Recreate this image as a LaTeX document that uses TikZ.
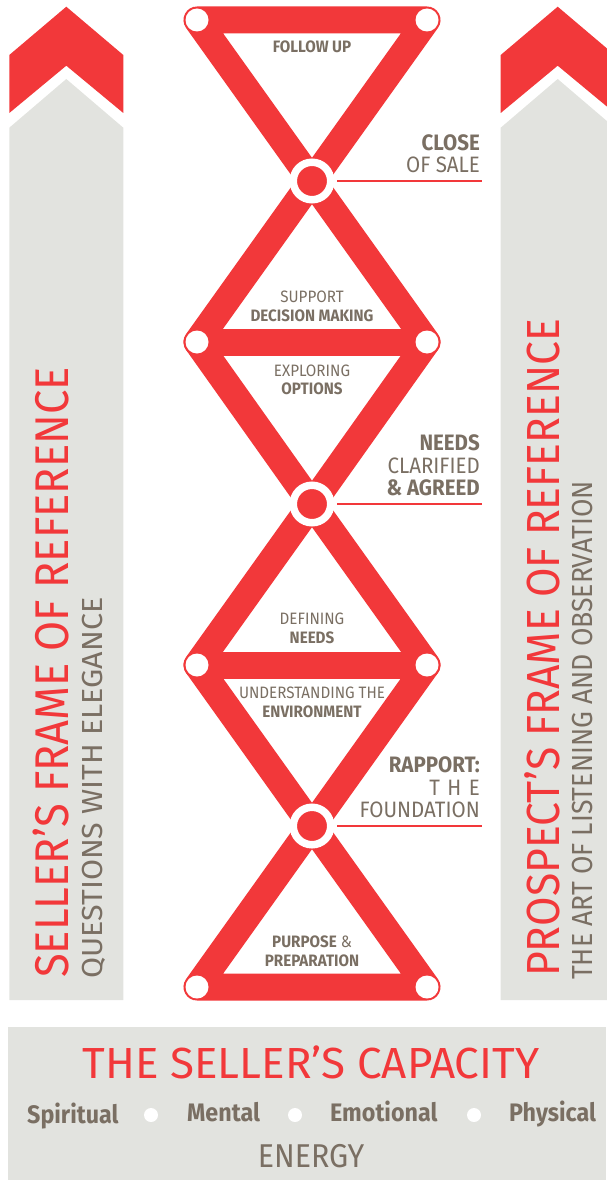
\documentclass[tikz,border=0pt]{standalone}
\usepackage{fontspec}
\setmainfont{Fira Sans}[FakeStretch=0.92]
\newfontfamily\widefont{Fira Sans}[FakeStretch=1.01]
\newfontfamily\subwidefont{Fira Sans}[FakeStretch=1.05]
\usetikzlibrary{positioning}

\definecolor{sellred}{RGB}{242,56,58}
\definecolor{panelgray}{RGB}{226,227,223}
\definecolor{inkbrown}{RGB}{122,111,99}

\pgfdeclarelayer{bg}
\pgfsetlayers{bg,main}

\newcommand\innersize{\fontsize{16.5}{19}\selectfont}
\newcommand\sidesize{\fontsize{22.3}{22}\selectfont}

\tikzset{
  bar/.style={draw=sellred, line width=27pt, line cap=round, line join=round},
  pin/.style={circle, fill=white, inner sep=0pt, minimum size=23pt},
  hub/.style={circle, fill=sellred, draw=white, line width=7.5pt, inner sep=0pt, minimum size=37.5pt},
  tick/.style={draw=sellred, line width=2pt},
  innerlbl/.style={text=inkbrown, inner sep=0pt, anchor=base, font=\innersize},
  sidelbl/.style={text=inkbrown, inner sep=0pt, anchor=base east, font=\sidesize},
  frametitle/.style={text=sellred, inner sep=0pt, rotate=90, anchor=base west, font=\fontsize{46.4}{46}\selectfont},
  framesub/.style={text=inkbrown, inner sep=0pt, rotate=90, anchor=base west, font=\fontsize{29}{29}\selectfont},
  capword/.style={text=inkbrown, inner sep=0pt, anchor=base west, font=\fontsize{25.3}{26}\selectfont\bfseries},
  dot/.style={circle, fill=white, inner sep=0pt, minimum size=14pt}
}

\begin{document}
\begin{tikzpicture}[x=1pt, y=-1pt]
  \useasboundingbox (0,0) rectangle (606,1180);
  \clip (0,0) rectangle (606,1180);

  % side panels with arrow heads
  \begin{pgfonlayer}{bg}
    \fill[sellred] (66.3,6.7) -- (123.3,55) -- (123.3,113) -- (66.3,65.7) -- (9.3,113) -- (9.3,55) -- cycle;
    \fill[panelgray] (66.3,79) -- (123.3,127.7) -- (123.3,1000) -- (9.3,1000) -- (9.3,127.7) -- cycle;
    \fill[sellred] (557.7,6.7) -- (614.7,55) -- (614.7,113) -- (557.7,65.7) -- (500.7,113) -- (500.7,55) -- cycle;
    \fill[panelgray] (557.7,79) -- (614.7,127.7) -- (614.7,1000) -- (500.7,1000) -- (500.7,127.7) -- cycle;
    \fill[panelgray] (8,1027) rectangle (606,1180);
  \end{pgfonlayer}

  % joints of the frame
  \node[pin] (tl) at (197,20) {};
  \node[pin] (tr) at (427,20) {};
  \node[hub] (close) at (312,181) {};
  \node[pin] (ml) at (197,342) {};
  \node[pin] (mr) at (427,342) {};
  \node[hub] (agree) at (312,504) {};
  \node[pin] (nl) at (197,665) {};
  \node[pin] (nr) at (427,665) {};
  \node[hub] (rapport) at (312,826) {};
  \node[pin] (bl) at (197,987) {};
  \node[pin] (br) at (427,987) {};

  \begin{pgfonlayer}{bg}
    \draw[bar] (tl.center) -- (tr.center) -- (close.center) -- cycle;
    \draw[bar] (close.center) -- (ml.center) -- (agree.center) -- (mr.center) -- cycle;
    \draw[bar] (ml.center) -- (mr.center);
    \draw[bar] (agree.center) -- (nl.center) -- (rapport.center) -- (nr.center) -- cycle;
    \draw[bar] (nl.center) -- (nr.center);
    \draw[bar] (rapport.center) -- (bl.center) -- (br.center) -- cycle;
  \end{pgfonlayer}

  % stages inside the frame
  \node[innerlbl] (followup) at (312,53) {\bfseries FOLLOW UP};
  \node[innerlbl] (support) at (312,302) {SUPPORT};
  \node[innerlbl] (decision) at (312,321) {\bfseries DECISION MAKING};
  \node[innerlbl] (exploring) at (312,376) {EXPLORING};
  \node[innerlbl] (options) at (312,394) {\bfseries OPTIONS};
  \node[innerlbl] (defining) at (312,624) {DEFINING};
  \node[innerlbl] (needs) at (312,643) {\bfseries NEEDS};
  \node[innerlbl] (understanding) at (312,698) {UNDERSTANDING THE};
  \node[innerlbl] (environment) at (312,717) {\bfseries ENVIRONMENT};
  \node[innerlbl] (purpose) at (312,947) {\textbf{PURPOSE} \&};
  \node[innerlbl] (preparation) at (312,966) {\bfseries PREPARATION};

  % milestones on the right
  \coordinate (closeend) at (482,181);
  \coordinate (agreeend) at (482,504);
  \coordinate (rapportend) at (482,826);
  \draw[tick] ([xshift=2.5pt]close.east) -- (closeend);
  \draw[tick] ([xshift=2.5pt]agree.east) -- (agreeend);
  \draw[tick] ([xshift=2.5pt]rapport.east) -- (rapportend);

  \node[sidelbl] (closea) at (480,150.5) {\bfseries CLOSE};
  \node[sidelbl] (closeb) at (480,172.5) {OF SALE};
  \node[sidelbl] (agreea) at (480,450) {\bfseries NEEDS};
  \node[sidelbl] (agreeb) at (480,473) {CLARIFIED};
  \node[sidelbl] (agreec) at (480,495) {\bfseries \& AGREED};
  \node[sidelbl] (rapporta) at (480,772) {\bfseries RAPPORT:};
  \node[sidelbl] (rapportb) at (480,795) {T\hspace{7.5pt}H\hspace{7.5pt}E};
  \node[sidelbl] (rapportc) at (480,817) {FOUNDATION};

  % frames of reference
  \node[frametitle, font=\fontsize{47.3}{47}\selectfont] (sellerframe) at (68,978) {SELLER’S FRAME OF REFERENCE};
  \node[framesub, font=\fontsize{29}{29}\selectfont\subwidefont] (sellersub) at (102,979) {QUESTIONS WITH ELEGANCE};
  \node[frametitle] (prospectframe) at (559,977) {PROSPECT’S FRAME OF REFERENCE};
  \node[framesub] (prospectsub) at (592,980) {THE ART OF LISTENING AND OBSERVATION};

  % capacity
  \node[text=sellred, inner sep=0pt, anchor=base, font=\fontsize{43.5}{44}\selectfont\widefont] (capacity) at (311,1078) {THE SELLER’S CAPACITY};
  \node[capword] (spiritual) at (27,1123) {Spiritual};
  \node[dot] (dota) at (151,1115) {};
  \node[capword] (mental) at (187,1121) {Mental};
  \node[dot] (dotb) at (295,1115) {};
  \node[capword] (emotional) at (330,1121) {Emotional};
  \node[dot] (dotc) at (474,1115) {};
  \node[capword] (physical) at (509,1121) {Physical};
  \node[text=inkbrown, inner sep=0pt, anchor=base, font=\fontsize{33}{33}\selectfont] (energy) at (311,1167) {ENERGY};
\end{tikzpicture}
\end{document}
